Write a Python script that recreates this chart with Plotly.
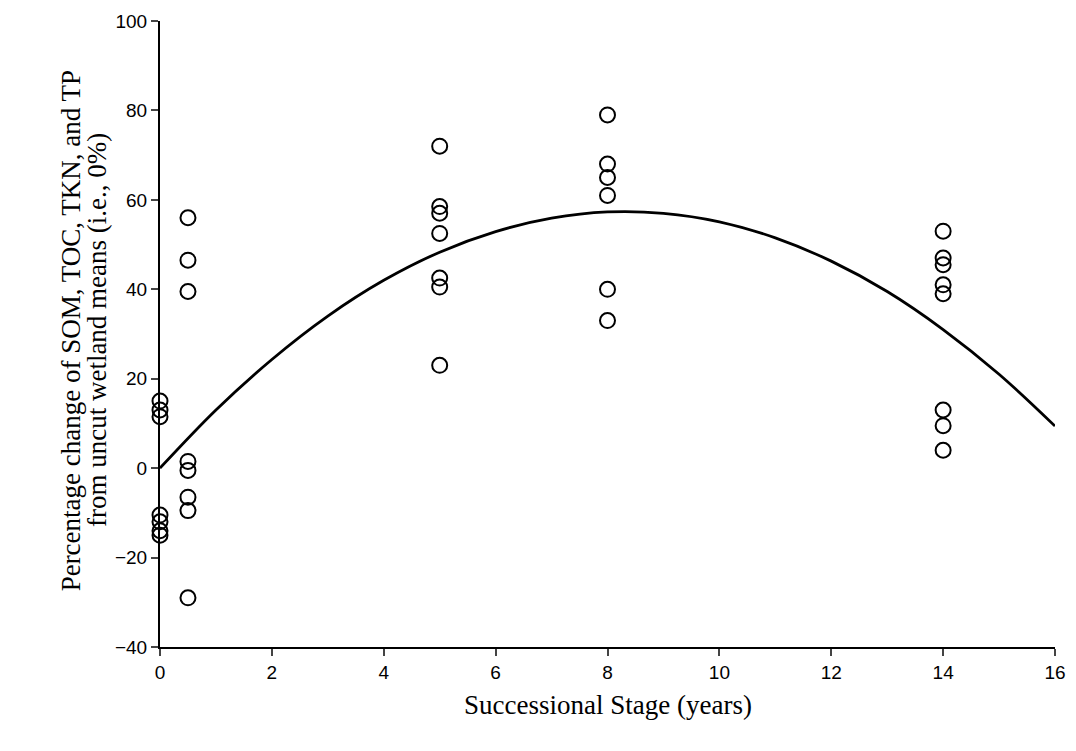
import plotly.graph_objects as go

# Scatter data: successional stage (years) and percentage change
stage_x = [0, 0, 0, 0, 0, 0, 0,
           0.5, 0.5, 0.5, 0.5, 0.5, 0.5, 0.5, 0.5,
           5, 5, 5, 5, 5, 5, 5,
           8, 8, 8, 8, 8, 8,
           14, 14, 14, 14, 14, 14, 14, 14]
pct_change = [15, 13, 11.5, -10.5, -12, -14, -15,
              56, 46.5, 39.5, 1.5, -0.5, -6.5, -9.5, -29,
              72, 58.5, 57, 52.5, 42.5, 40.5, 23,
              79, 68, 65, 61, 40, 33,
              53, 47, 45.5, 41, 39, 13, 9.5, 4]

# Fitted curve
curve_x = [0, 1, 2, 3, 4, 5, 6, 7, 8, 9, 10, 11, 12, 13, 14, 15, 16]
curve_y = [0, 13.0, 24.3, 34.0, 42.0, 48.3, 52.9, 55.9, 57.3, 57.0, 55.1,
           51.5, 46.3, 39.5, 31.0, 21.0, 9.4]

x_ticks = [0, 2, 4, 6, 8, 10, 12, 14, 16]
y_ticks = [-40, -20, 0, 20, 40, 60, 80, 100]

y_title_lines = ["Percentage change of SOM, TOC, TKN, and TP",
                 "from uncut wetland means (i.e., 0%)"]
x_title = "Successional Stage (years)"

fig = go.Figure()
fig.add_trace(go.Scatter(
    x=curve_x, y=curve_y, mode="lines", line=dict(color="black", width=2.8, shape="spline"),
    showlegend=False, hoverinfo="skip"))
fig.add_trace(go.Scatter(
    x=stage_x, y=pct_change, mode="markers",
    marker=dict(symbol="circle-open", size=15, color="black", line=dict(width=2, color="black")),
    cliponaxis=False, showlegend=False))

tick_font = dict(family="Liberation Sans, Arial", size=19, color="black")
title_font = dict(family="Liberation Serif, Times New Roman", size=27, color="black")
# page body has an 8px default margin, so the figure is sized/offset to compensate
fig.update_layout(
    width=1068, height=735,
    margin=dict(l=152, r=21, t=13, b=96),
    paper_bgcolor="white", plot_bgcolor="white",
    xaxis=dict(range=[0, 16], tickvals=x_ticks, ticks="outside", ticklen=7, tickwidth=1.5,
               showline=True, linecolor="black", linewidth=2, showgrid=False, zeroline=False,
               tickfont=tick_font, automargin=False),
    yaxis=dict(range=[-40, 100], tickvals=y_ticks, ticks="outside", ticklen=7, tickwidth=1.5,
               showline=True, linecolor="black", linewidth=2, showgrid=False, zeroline=False,
               tickfont=tick_font, automargin=False),
    annotations=[
        dict(text=x_title, x=0.5, y=-0.093, xref="paper", yref="paper",
             xanchor="center", yanchor="middle", showarrow=False, font=title_font),
        dict(text=y_title_lines[0], x=-0.1, y=0.505, xref="paper", yref="paper", textangle=-90,
             xanchor="center", yanchor="middle", showarrow=False, font=title_font),
        dict(text=y_title_lines[1], x=-0.071, y=0.507, xref="paper", yref="paper", textangle=-90,
             xanchor="center", yanchor="middle", showarrow=False, font=title_font),
    ],
)

fig.write_html("out.html")
